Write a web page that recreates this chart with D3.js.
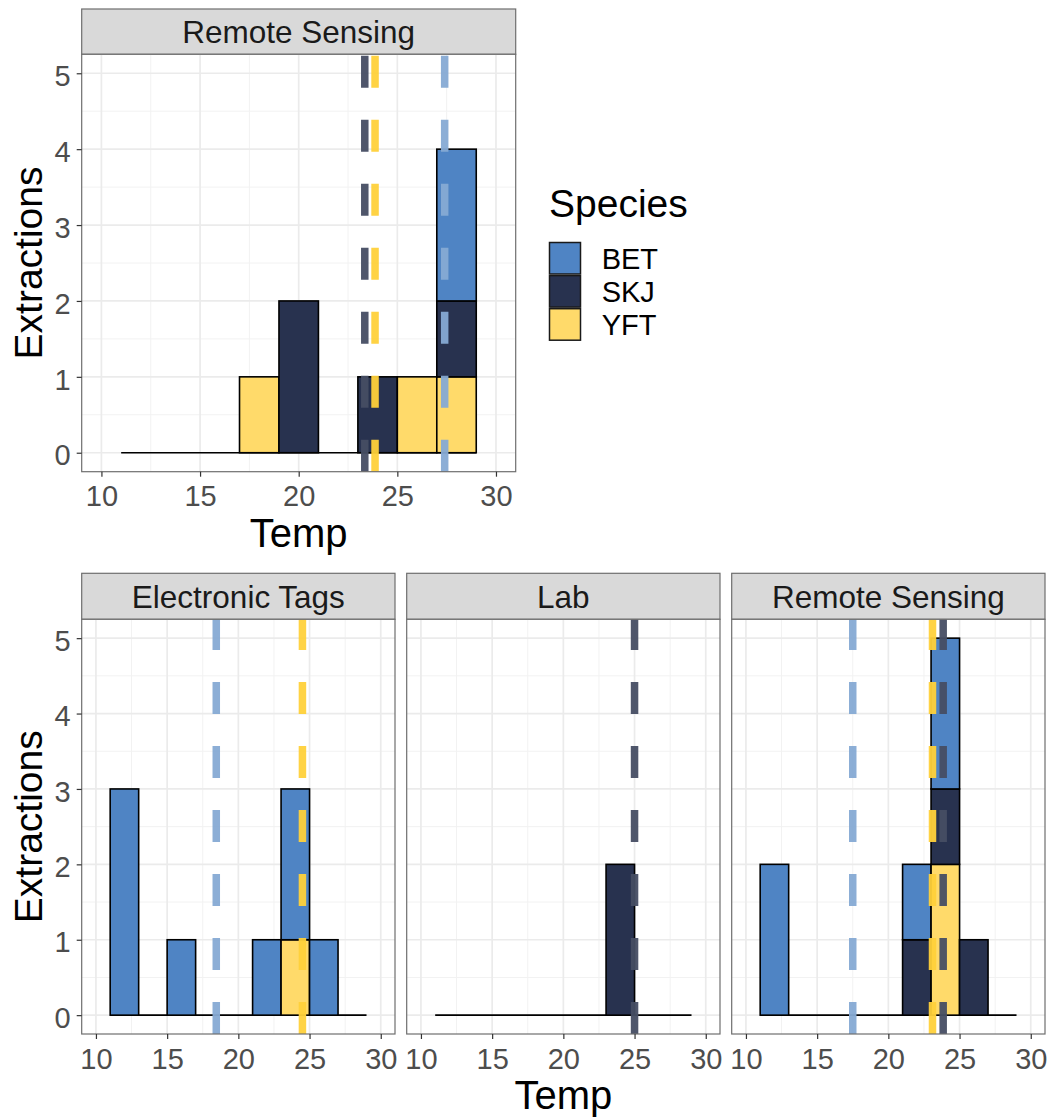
<!DOCTYPE html>
<html>
<head>
<meta charset="utf-8">
<script src="https://cdn.jsdelivr.net/npm/d3@7"></script>
<style>
  body { margin: 0; background: #fff; }
  text { font-family: "Liberation Sans", Arial, sans-serif; }
</style>
</head>
<body>
<svg id="chart" width="1051" height="1119"></svg>
<script>
// histogram bins (left edges), binwidth 2
const binStarts = [11, 13, 15, 17, 19, 21, 23, 25, 27];
const binWidth = 2;
const species = ["BET", "SKJ", "YFT"];
const xTicks = [10, 15, 20, 25, 30];
const yTicks = [0, 1, 2, 3, 4, 5];

// top plot: Remote Sensing
const topRemoteBET = [0, 0, 0, 0, 0, 0, 0, 0, 2];
const topRemoteSKJ = [0, 0, 0, 0, 2, 0, 1, 0, 1];
const topRemoteYFT = [0, 0, 0, 1, 0, 0, 0, 1, 1];
const topRemoteMeans = [27.4, 23.35, 23.87];

// bottom plot: Electronic Tags
const tagsBET = [3, 0, 1, 0, 0, 1, 2, 1, 0];
const tagsSKJ = [0, 0, 0, 0, 0, 0, 0, 0, 0];
const tagsYFT = [0, 0, 0, 0, 0, 0, 1, 0, 0];
const tagsMeans = [18.45, null, 24.5];

// bottom plot: Lab
const labBET = [0, 0, 0, 0, 0, 0, 0, 0, 0];
const labSKJ = [0, 0, 0, 0, 0, 0, 2, 0, 0];
const labYFT = [0, 0, 0, 0, 0, 0, 0, 0, 0];
const labMeans = [null, 25.0, null];

// bottom plot: Remote Sensing
const remoteBET = [2, 0, 0, 0, 0, 1, 2, 0, 0];
const remoteSKJ = [0, 0, 0, 0, 0, 1, 1, 1, 0];
const remoteYFT = [0, 0, 0, 0, 0, 0, 2, 0, 0];
const remoteMeans = [17.5, 23.85, 23.1];

// colours
const fillColor = { BET: "#4f84c4", SKJ: "#28324f", YFT: "#ffda6a" };
const lineColor = { BET: "#86aad4", SKJ: "#464e64", YFT: "#ffd13a" };

const svg = d3.select("#chart");
const font = "\"Liberation Sans\", Arial, sans-serif";

function drawPanel(opt) {
  const x = d3.scaleLinear().domain([9, 31]).range([opt.left, opt.right]);
  const y = d3.scaleLinear().domain([-0.25, 5.25]).range([opt.bottom, opt.top]);
  const g = svg.append("g");

  // strip
  g.append("rect")
    .attr("x", opt.left).attr("y", opt.stripTop)
    .attr("width", opt.right - opt.left).attr("height", opt.top - opt.stripTop)
    .attr("fill", "#d9d9d9").attr("stroke", "#6e6e6e").attr("stroke-width", 1.2);
  g.append("text")
    .attr("x", (opt.left + opt.right) / 2)
    .attr("y", (opt.stripTop + opt.top) / 2 + 11.5)
    .attr("text-anchor", "middle")
    .attr("font-size", 31.5).attr("fill", "#1a1a1a")
    .text(opt.title);

  // panel background and grid
  g.append("rect")
    .attr("x", opt.left).attr("y", opt.top)
    .attr("width", opt.right - opt.left).attr("height", opt.bottom - opt.top)
    .attr("fill", "#fff");

  const minorX = [12.5, 17.5, 22.5, 27.5];
  const minorY = [0.5, 1.5, 2.5, 3.5, 4.5];
  g.selectAll(".mx").data(minorX).enter().append("line")
    .attr("x1", d => x(d)).attr("x2", d => x(d))
    .attr("y1", opt.top).attr("y2", opt.bottom)
    .attr("stroke", "#f2f2f2").attr("stroke-width", 1);
  g.selectAll(".my").data(minorY).enter().append("line")
    .attr("x1", opt.left).attr("x2", opt.right)
    .attr("y1", d => y(d)).attr("y2", d => y(d))
    .attr("stroke", "#f2f2f2").attr("stroke-width", 1);
  g.selectAll(".gx").data(xTicks).enter().append("line")
    .attr("x1", d => x(d)).attr("x2", d => x(d))
    .attr("y1", opt.top).attr("y2", opt.bottom)
    .attr("stroke", "#ebebeb").attr("stroke-width", 1.7);
  g.selectAll(".gy").data(yTicks).enter().append("line")
    .attr("x1", opt.left).attr("x2", opt.right)
    .attr("y1", d => y(d)).attr("y2", d => y(d))
    .attr("stroke", "#ebebeb").attr("stroke-width", 1.7);

  // zero-count bins show as a flat outline
  g.append("line")
    .attr("x1", x(binStarts[0]))
    .attr("x2", x(binStarts[binStarts.length - 1] + binWidth))
    .attr("y1", y(0)).attr("y2", y(0))
    .attr("stroke", "#000").attr("stroke-width", 1.6);

  // stacked bars: YFT bottom, SKJ, BET top
  const stackOrder = ["YFT", "SKJ", "BET"];
  binStarts.forEach((b, i) => {
    let base = 0;
    stackOrder.forEach(sp => {
      const n = opt.counts[sp][i];
      if (n > 0) {
        g.append("rect")
          .attr("x", x(b)).attr("y", y(base + n))
          .attr("width", x(b + binWidth) - x(b))
          .attr("height", y(base) - y(base + n))
          .attr("fill", fillColor[sp])
          .attr("stroke", "#000").attr("stroke-width", 1.6);
      }
      base += n;
    });
  });

  // mean lines, dashed from the bottom up
  species.forEach((sp, k) => {
    const m = opt.means[k];
    if (m == null) return;
    g.append("line")
      .attr("x1", x(m)).attr("x2", x(m))
      .attr("y1", opt.bottom).attr("y2", opt.top)
      .attr("stroke", lineColor[sp]).attr("stroke-width", 7.5)
      .attr("stroke-dasharray", "32 32")
      .attr("opacity", 0.95);
  });

  // border
  g.append("rect")
    .attr("x", opt.left).attr("y", opt.top)
    .attr("width", opt.right - opt.left).attr("height", opt.bottom - opt.top)
    .attr("fill", "none").attr("stroke", "#6e6e6e").attr("stroke-width", 1.2);

  // axes
  const xAxis = g.append("g")
    .attr("transform", "translate(0," + opt.bottom + ")")
    .call(d3.axisBottom(x).tickValues(xTicks).tickSize(5).tickPadding(9));
  xAxis.select(".domain").remove();
  xAxis.selectAll("line").attr("stroke", "#333").attr("stroke-width", 1.2);
  xAxis.selectAll("text").attr("font-size", 29).attr("fill", "#4d4d4d")
    .attr("font-family", font);

  if (opt.showY) {
    const yAxis = g.append("g")
      .attr("transform", "translate(" + opt.left + ",0)")
      .call(d3.axisLeft(y).tickValues(yTicks).tickFormat(d3.format("d"))
        .tickSize(5).tickPadding(6));
    yAxis.select(".domain").remove();
    yAxis.selectAll("line").attr("stroke", "#333").attr("stroke-width", 1.2);
    yAxis.selectAll("text").attr("font-size", 29).attr("fill", "#4d4d4d")
      .attr("font-family", font).attr("dy", "0.42em");
  }
}

// ---- top plot
drawPanel({
  title: "Remote Sensing", left: 81.7, right: 515.7, stripTop: 9, top: 54.3, bottom: 471.7,
  counts: { BET: topRemoteBET, SKJ: topRemoteSKJ, YFT: topRemoteYFT },
  means: topRemoteMeans, showY: true
});

svg.append("text")
  .attr("x", 298.7).attr("y", 547)
  .attr("text-anchor", "middle").attr("font-size", 40).text("Temp");
svg.append("text")
  .attr("transform", "translate(41.7,263) rotate(-90)")
  .attr("text-anchor", "middle").attr("font-size", 39).text("Extractions");

// legend
svg.append("text")
  .attr("x", 549).attr("y", 216.7)
  .attr("font-size", 39).text("Species");
species.forEach((sp, i) => {
  const ky = 241.7 + i * 33.1;
  svg.append("rect")
    .attr("x", 549.5).attr("y", ky + 0.8)
    .attr("width", 31).attr("height", 31.5)
    .attr("fill", fillColor[sp]).attr("stroke", "#1a1a1a").attr("stroke-width", 1.5);
  svg.append("text")
    .attr("x", 601.7).attr("y", ky + 16.5 + 10.5)
    .attr("font-size", 29).text(sp);
});

// ---- bottom plot
const bottomPanels = [
  { title: "Electronic Tags", left: 81.7, counts: { BET: tagsBET, SKJ: tagsSKJ, YFT: tagsYFT }, means: tagsMeans },
  { title: "Lab", left: 406.7, counts: { BET: labBET, SKJ: labSKJ, YFT: labYFT }, means: labMeans },
  { title: "Remote Sensing", left: 731.7, counts: { BET: remoteBET, SKJ: remoteSKJ, YFT: remoteYFT }, means: remoteMeans }
];
bottomPanels.forEach((p, i) => {
  drawPanel(Object.assign({}, p, {
    right: p.left + 313.3, stripTop: 573.3, top: 619.3, bottom: 1034, showY: i === 0
  }));
});

svg.append("text")
  .attr("x", 563.3).attr("y", 1109)
  .attr("text-anchor", "middle").attr("font-size", 40).text("Temp");
svg.append("text")
  .attr("transform", "translate(41.7,826.7) rotate(-90)")
  .attr("text-anchor", "middle").attr("font-size", 39).text("Extractions");
</script>
</body>
</html>
